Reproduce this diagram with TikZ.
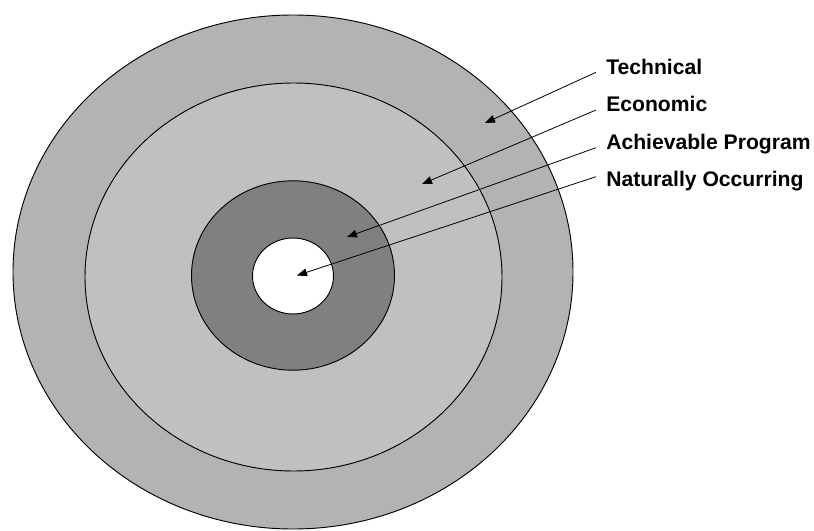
\documentclass[tikz,border=0pt]{standalone}
\usepackage{fontspec}
\setmainfont{Liberation Sans}
\usetikzlibrary{arrows.meta,calc}
\definecolor{ringouter}{RGB}{179,179,179}
\definecolor{ringecon}{RGB}{192,192,192}
\definecolor{ringprog}{RGB}{128,128,128}
\tikzset{
  ring/.style={draw=black,line width=0.7pt},
  lbl/.style={anchor=base west,inner sep=0pt,
              font=\bfseries\fontsize{15.85}{18}\selectfont},
  pointer/.style={-{Triangle[length=7.5pt,width=5.8pt]},line width=0.6pt,draw=black},
}
\begin{document}
\begin{tikzpicture}[x=0.75pt,y=-0.75pt]
  \useasboundingbox (0,0) rectangle (814,531);

  % --- ringurile ----------------------------------------------------------
  \draw[ring,fill=ringouter] (293,272)   ellipse [x radius=280,  y radius=257];
  \draw[ring,fill=ringecon]  (293.5,277) ellipse [x radius=208.5,y radius=194];
  \draw[ring,fill=ringprog]  (293,275.5) ellipse [x radius=101.5,y radius=94.7];
  \draw[ring,fill=white]     (293,276)   ellipse [x radius=40.5, y radius=38];

  % --- tintele sagetilor --------------------------------------------------
  \coordinate (tTech) at (485,123);
  \coordinate (tEcon) at (422,184);
  \coordinate (tProg) at (347,237);
  \coordinate (tNat)  at (297,275.5);

  % --- etichete -----------------------------------------------------------
  \node[lbl] (tech) at (606,74.7)  {Technical};
  \node[lbl] (econ) at (606,112)   {Economic};
  \node[lbl] (prog) at (606,149.3) {Achievable Program};
  \node[lbl] (nat)  at (606,186.6) {Naturally Occurring};

  % --- sageti -------------------------------------------------------------
  \draw[pointer] ($(tech.base west)+(-10,-2.4)$) -- (tTech);
  \draw[pointer] ($(econ.base west)+(-10,-2)$)   -- (tEcon);
  \draw[pointer] ($(prog.base west)+(-10,-1.6)$) -- (tProg);
  \draw[pointer] ($(nat.base west)+(-10,-9.9)$)  -- (tNat);
\end{tikzpicture}
\end{document}
